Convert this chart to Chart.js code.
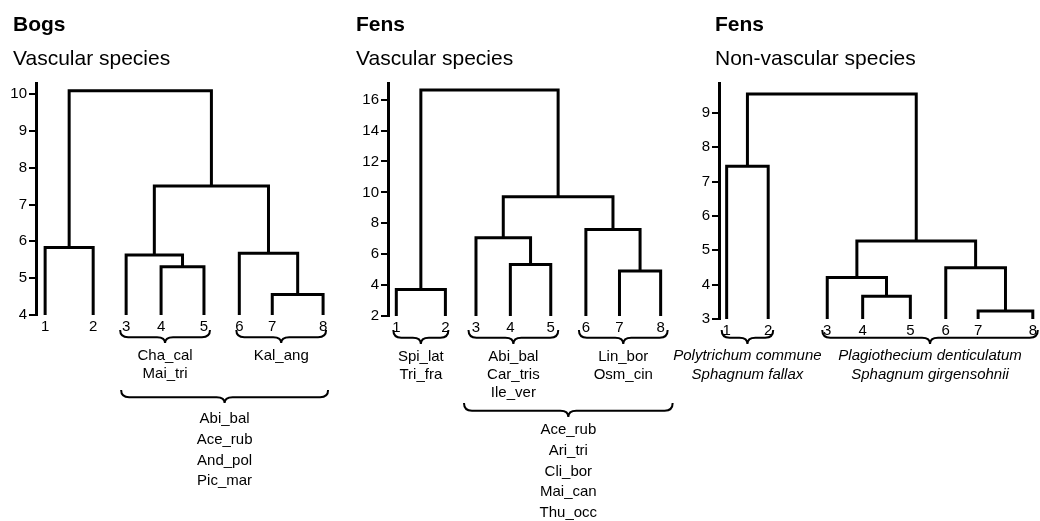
<!DOCTYPE html>
<html>
<head>
<meta charset="utf-8">
<script src="https://cdn.jsdelivr.net/npm/chart.js@4.4.0/dist/chart.umd.min.js"></script>
<style>
  body { margin: 0; background: #fff; width: 1040px; height: 521px; position: relative; overflow: hidden; }
  canvas { position: absolute; top: 0; }
</style>
</head>
<body>
<canvas id="bogs" width="340" height="521" style="left:0"></canvas>
<canvas id="fensVasc" width="340" height="521" style="left:340px"></canvas>
<canvas id="fensMoss" width="380" height="521" style="left:660px"></canvas>
<script>
const leafLabels = ['1', '2', '3', '4', '5', '6', '7', '8'];

// Bogs - vascular species
const bogLeafPos = [1, 2.21, 3.04, 3.92, 5.00, 5.89, 6.72, 8.00];
// [left node, right node, height]; nodes 0-7 are leaves, 8+ are earlier merges
const bogMerges = [[0, 1, 5.83], [3, 4, 5.31], [2, 9, 5.63], [6, 7, 4.56], [5, 11, 5.68], [10, 12, 7.50], [8, 13, 10.09]];
const bogTicks = [4, 5, 6, 7, 8, 9, 10];
const bogGroups = [[3, 5], [6, 8], [3, 8]];
const bogSpecies = [['Cha_cal', 'Mai_tri'], ['Kal_ang'], ['Abi_bal', 'Ace_rub', 'And_pol', 'Pic_mar']];

// Fens - vascular species
const fenLeafPos = [1, 2.30, 3.11, 4.02, 5.09, 6.02, 6.91, 8.00];
const fenMerges = [[0, 1, 3.72], [3, 4, 5.34], [2, 9, 7.07], [6, 7, 4.91], [5, 11, 7.60], [10, 12, 9.72], [8, 13, 16.63]];
const fenTicks = [2, 4, 6, 8, 10, 12, 14, 16];
const fenGroups = [[1, 2], [3, 5], [6, 8], [3, 8]];
const fenSpecies = [['Spi_lat', 'Tri_fra'], ['Abi_bal', 'Car_tris', 'Ile_ver'], ['Lin_bor', 'Osm_cin'],
  ['Ace_rub', 'Ari_tri', 'Cli_bor', 'Mai_can', 'Thu_occ']];

// Fens - non-vascular species
const mossLeafPos = [1, 1.95, 3.30, 4.11, 5.20, 6.01, 6.75, 8.00];
const mossMerges = [[0, 1, 7.45], [3, 4, 3.66], [2, 9, 4.21], [6, 7, 3.23], [5, 11, 4.49], [10, 12, 5.27], [8, 13, 9.55]];
const mossTicks = [3, 4, 5, 6, 7, 8, 9];
const mossGroups = [[1, 2], [3, 8]];
const mossSpecies = [['Polytrichum commune', 'Sphagnum fallax'], ['Plagiothecium denticulatum', 'Sphagnum girgensohnii']];

const FONT = '"Liberation Sans", Arial, sans-serif';

// one line dataset per merge: down-left, across, down-right
function dendroSets(leafPos, merges, base) {
  const nx = leafPos.slice();
  const ny = leafPos.map(() => base);
  return merges.map(([a, b, h]) => {
    nx.push((nx[a] + nx[b]) / 2);
    ny.push(h);
    return {
      data: [{x: nx[a], y: ny[a]}, {x: nx[a], y: h}, {x: nx[b], y: h}, {x: nx[b], y: ny[b]}],
      showLine: true,
      borderColor: '#000',
      borderWidth: 3,
      pointRadius: 0
    };
  });
}

function drawBrace(ctx, x0, x1, top, h) {
  const mid = (x0 + x1) / 2;
  const yb = top + h * 0.55;
  const r = Math.min(8, (x1 - x0) / 6);
  ctx.beginPath();
  ctx.moveTo(x0, top);
  ctx.quadraticCurveTo(x0, yb, x0 + r, yb);
  ctx.lineTo(mid - r, yb);
  ctx.quadraticCurveTo(mid, yb, mid, top + h);
  ctx.quadraticCurveTo(mid, yb, mid + r, yb);
  ctx.lineTo(x1 - r, yb);
  ctx.quadraticCurveTo(x1, yb, x1, top);
  ctx.stroke();
}

// headings, braces under leaf groups and the species names
function annotations(cfg) {
  return {
    id: 'annotations',
    afterDraw(chart) {
      const {ctx} = chart;
      const x = chart.scales.x;
      ctx.save();
      ctx.fillStyle = '#000';
      ctx.strokeStyle = '#000';
      ctx.textBaseline = 'alphabetic';
      ctx.textAlign = 'left';
      ctx.font = 'bold 21px ' + FONT;
      ctx.fillText(cfg.title, cfg.titleX, 31);
      ctx.font = '21px ' + FONT;
      ctx.fillText(cfg.subtitle, cfg.titleX, 65);

      ctx.lineWidth = 2;
      ctx.font = (cfg.italic ? 'italic ' : '') + '15px ' + FONT;
      ctx.textAlign = 'center';
      ctx.textBaseline = 'middle';
      cfg.groups.forEach((g, i) => {
        const r = cfg.rows[i];
        const x0 = x.getPixelForValue(cfg.leafPos[g[0] - 1]) - r.pad;
        const x1 = x.getPixelForValue(cfg.leafPos[g[1] - 1]) + r.pad;
        drawBrace(ctx, x0, x1, r.top, r.h);
        cfg.species[i].forEach((s, k) => ctx.fillText(s, (x0 + x1) / 2, r.textY + k * r.gap));
      });
      ctx.restore();
    }
  };
}

function dendrogram(id, cfg) {
  new Chart(document.getElementById(id), {
    type: 'scatter',
    data: {datasets: dendroSets(cfg.leafPos, cfg.merges, cfg.yMin)},
    options: {
      responsive: false,
      animation: false,
      layout: {padding: {left: 0, top: 83, right: cfg.padRight, bottom: cfg.padBottom}},
      plugins: {
        legend: {display: false},
        tooltip: {enabled: false}
      },
      scales: {
        x: {
          type: 'linear', min: cfg.xMin, max: cfg.xMax,
          afterFit: s => { s.height = 20; },
          afterBuildTicks: s => { s.ticks = cfg.leafPos.map(v => ({value: v})); },
          grid: {display: false, drawTicks: false},
          border: {display: false},
          ticks: {
            color: '#000', padding: 3, autoSkip: false, maxRotation: 0,
            font: {family: FONT, size: 15},
            callback: (v, i) => leafLabels[i]
          }
        },
        y: {
          min: cfg.yMin, max: cfg.yMax,
          afterFit: s => { s.width = cfg.axisW; },
          afterBuildTicks: s => { s.ticks = cfg.ticks.map(v => ({value: v})); },
          border: {display: true, color: '#000', width: 3},
          grid: {drawOnChartArea: false, drawTicks: true, tickLength: 7, color: '#000', lineWidth: 2},
          ticks: {color: '#000', padding: 2, font: {family: FONT, size: 15}}
        }
      }
    },
    plugins: [annotations(cfg)]
  });
}

dendrogram('bogs', {
  title: 'Bogs', subtitle: 'Vascular species', titleX: 13,
  leafPos: bogLeafPos, merges: bogMerges, ticks: bogTicks,
  groups: bogGroups, species: bogSpecies,
  yMin: 4, yMax: 10.3, xMin: 0.77, xMax: 8.30, axisW: 36,
  padRight: 5, padBottom: 186,
  rows: [
    {top: 330, h: 13, pad: 6, textY: 356, gap: 18.3},
    {top: 330, h: 13, pad: 3, textY: 356, gap: 18.3},
    {top: 390, h: 13, pad: 5, textY: 419, gap: 20.7}
  ]
});

dendrogram('fensVasc', {
  title: 'Fens', subtitle: 'Vascular species', titleX: 16,
  leafPos: fenLeafPos, merges: fenMerges, ticks: fenTicks,
  groups: fenGroups, species: fenSpecies,
  yMin: 2, yMax: 17.08, xMin: 0.78, xMax: 8.38, axisW: 48,
  padRight: 5, padBottom: 185,
  rows: [
    {top: 330, h: 14, pad: 3, textY: 356.7, gap: 18.3},
    {top: 330, h: 14, pad: 7.5, textY: 356.7, gap: 18.3},
    {top: 330, h: 14, pad: 7, textY: 356.7, gap: 18.3},
    {top: 403, h: 14, pad: 12, textY: 430, gap: 20.7}
  ]
});

dendrogram('fensMoss', {
  title: 'Fens', subtitle: 'Non-vascular species', titleX: 55, italic: true,
  leafPos: mossLeafPos, merges: mossMerges, ticks: mossTicks,
  groups: mossGroups, species: mossSpecies,
  yMin: 3, yMax: 9.87, xMin: 0.825, xMax: 8.09, axisW: 59,
  padRight: 2, padBottom: 182,
  rows: [
    {top: 330, h: 14, pad: 5, textY: 356, gap: 19},
    {top: 330, h: 14, pad: 5, textY: 356, gap: 19}
  ]
});
</script>
</body>
</html>
